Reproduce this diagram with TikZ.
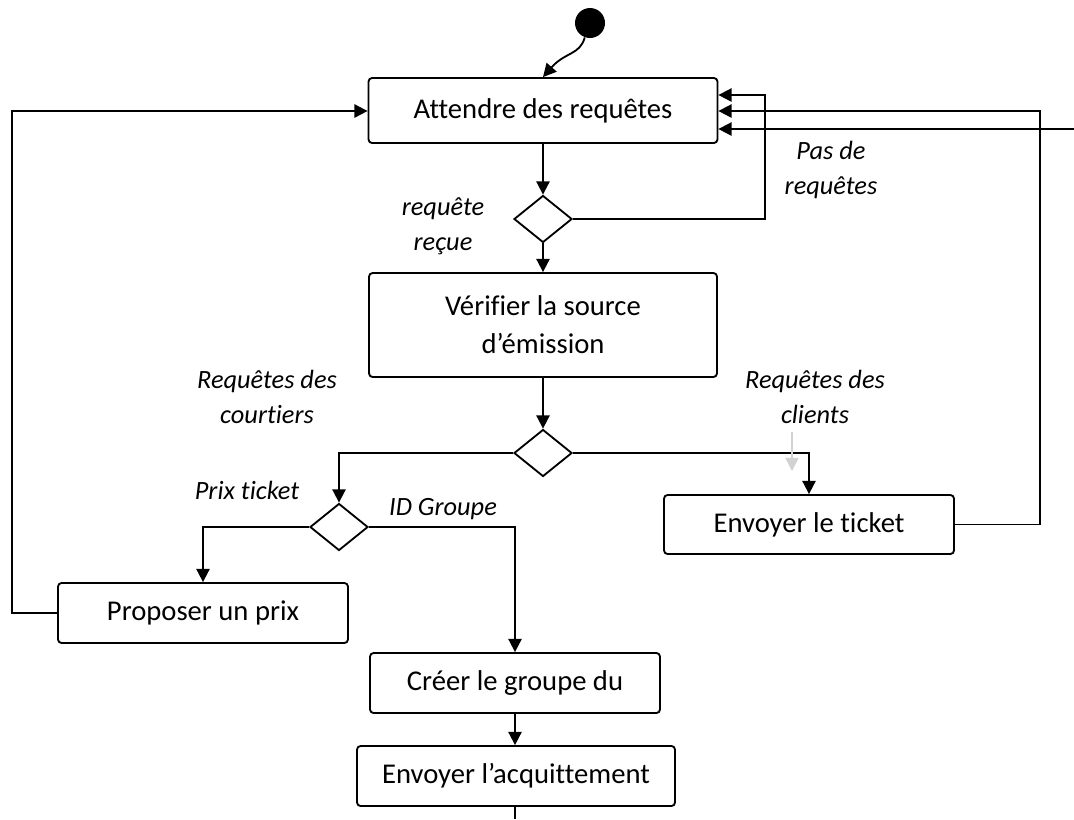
\documentclass[tikz,border=0pt]{standalone}
\usepackage{fontspec}
\setmainfont[Ligatures=NoCommon]{Carlito}
\usetikzlibrary{shapes.geometric,arrows.meta}

\begin{document}
\begin{tikzpicture}[x=0.02cm,y=-0.02cm,
  act/.style={draw,rounded corners=2pt,line width=1.05pt,font=\fontsize{16.3}{21.5}\selectfont,align=center,inner sep=0pt},
  dec/.style={draw,diamond,line width=1.05pt,inner sep=0pt,minimum width=1.16cm,minimum height=0.94cm},
  lbl/.style={font=\fontsize{15}{20}\selectfont\itshape,align=center},
  flow/.style={line width=1.05pt,-{Triangle[length=7.5pt,width=7.5pt]}},
  plain/.style={line width=1.05pt}]
\useasboundingbox (0,0) rectangle (1074,819);

% activities and decisions
\node[circle,fill=black,minimum size=0.6cm,inner sep=0pt] (start) at (590,23) {};
\node[act,minimum width=6.98cm,minimum height=1.3cm] (att) at (543,110.5) {Attendre des requêtes};
\node[dec] (d1) at (543,219) {};
\node[act,minimum width=6.96cm,minimum height=2.08cm] (ver) at (543,325) {Vérifier la source\\d’émission};
\node[dec] (d2) at (543,453) {};
\node[dec] (d3) at (339,527) {};
\node[act,minimum width=5.8cm,minimum height=1.18cm] (tic) at (809,524.5) {Envoyer le ticket};
\node[act,minimum width=5.8cm,minimum height=1.2cm] (pro) at (203,613) {Proposer un prix};
\node[act,minimum width=5.8cm,minimum height=1.2cm] (cre) at (515,683) {Créer le groupe du};
\node[act,minimum width=6.36cm,minimum height=1.2cm] (ack) at (516,776) {Envoyer l’acquittement};

% guard labels
\node[lbl] (lrr) at (443,226) {requête\\reçue};
\node[lbl] (lpr) at (831,170) {Pas de\\requêtes};
\node[lbl] (lcl) at (815,397) {Requêtes des\\clients};
\node[lbl] (lco) at (267,397) {Requêtes des\\courtiers};
\node[lbl] (lpt) at (247,490) {Prix ticket};
\node[lbl] (lid) at (443,509) {ID Groupe};

% routing points
\coordinate (r1) at (765,95);
\coordinate (r2) at (1040,111);
\coordinate (r3) at (1074,129);
\coordinate (l1) at (12,111);
\coordinate (e) at (515,819);
\coordinate (g1) at (792,432);
\coordinate (g2) at (792,471);

% flows
\draw[flow] (start.-110) .. controls (580,55) and (565,52) .. (att.north);
\draw[flow] (att.south) -- (d1.north);
\draw[flow] (d1.east) -| (r1) -- (att.east |- r1);
\draw[flow] (d1.south) -- (ver.north);
\draw[flow] (ver.south) -- (d2.north);
\draw[flow] (d2.west) -| (d3.north);
\draw[flow] (d2.east) -| (tic.north);
\draw[flow] (tic.east) -| (r2) -- (att.east |- r2);
\draw[flow] (r3) -- (att.east |- r3);
\draw[flow] (d3.west) -| (pro.north);
\draw[flow] (d3.east) -| (cre.north);
\draw[flow] (pro.west) -| (l1) -- (att.west |- l1);
\draw[flow] (cre.south) -- (cre.south |- ack.north);
\draw[plain] (ack.south -| e) -- (e);
\draw[flow,gray!35,line width=0.8pt] (g1) -- (g2);
\end{tikzpicture}
\end{document}
